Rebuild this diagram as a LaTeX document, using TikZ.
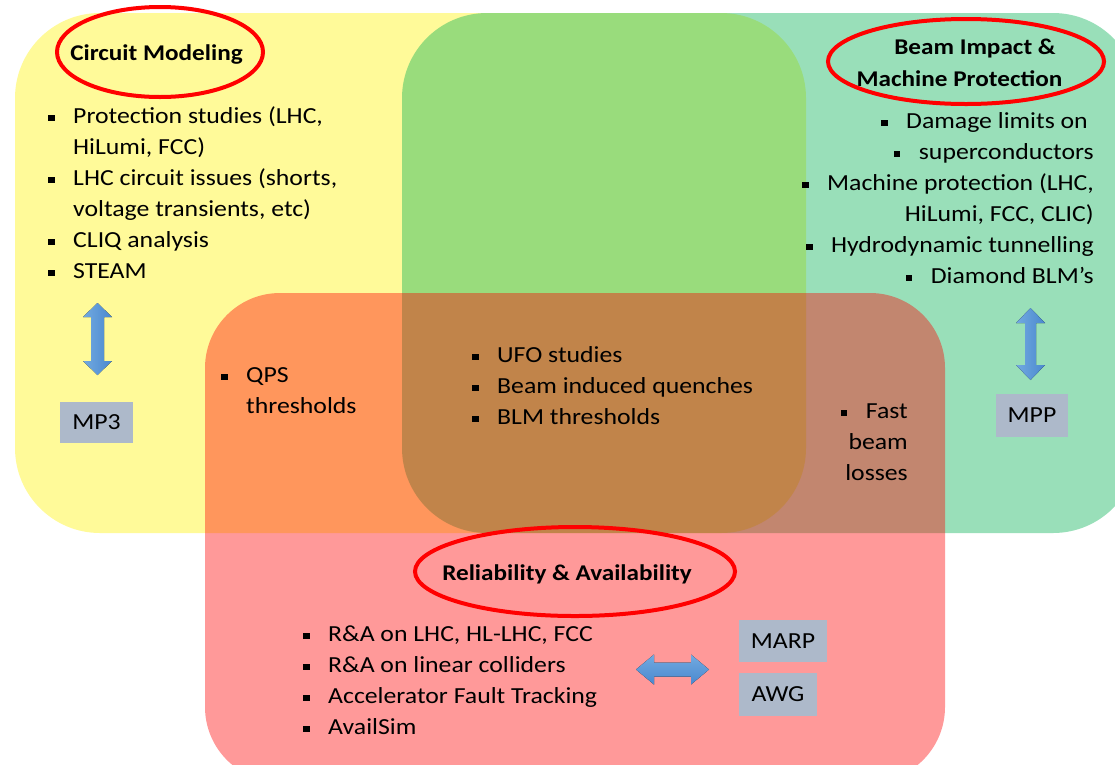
\documentclass[tikz,border=0pt]{standalone}
\usepackage{fontspec}
\setmainfont{Carlito}[FakeStretch=1.12]
\definecolor{gbox}{HTML}{ADB9CA}
\definecolor{ogreen}{HTML}{00B050}
\definecolor{arrA}{HTML}{72AAE0}
\definecolor{arrB}{HTML}{4A88CF}
\newcommand\bsq{\rule[2pt]{6.5pt}{6.5pt}}
\newcommand\bl{\makebox[25pt][l]{\bsq}}
\begin{document}
\begin{tikzpicture}[x=1pt,y=-1pt,
  txt/.style={inner sep=0pt, anchor=base west, font=\fontsize{23}{27}\selectfont},
  txr/.style={inner sep=0pt, anchor=base east, font=\fontsize{23}{27}\selectfont},
  ttl/.style={inner sep=0pt, anchor=base, font=\bfseries\fontsize{22.5}{26}\selectfont},
  ring/.style={draw=red, line width=4pt},
  gb/.style={fill=gbox, inner sep=0pt, font=\fontsize{23}{27}\selectfont},
  varrow/.style={left color=arrA, right color=arrB},
  harrow/.style={top color=arrA, bottom color=arrB}]
\useasboundingbox (0,0) rectangle (1115,764);
\begin{scope}
  \clip (0,0) rectangle (1115,764);
  \fill[yellow, fill opacity=0.4, rounded corners=85pt] (15,13) rectangle (806,533);
  \fill[ogreen, fill opacity=0.4, rounded corners=85pt] (402,13) rectangle (1138,533);
  \fill[red, fill opacity=0.4, rounded corners=75pt] (205,293) rectangle (945,782);
\end{scope}

% Circuit Modeling
\node[ttl] (cmT) at (156.5,60) {Circuit Modeling};
\draw[ring] (160,52) ellipse [x radius=103, y radius=45];
\node[txt] (c1) at (48,123) {\bl Protection studies (LHC,};
\node[txt] (c2) at (73,154) {HiLumi, FCC)};
\node[txt] (c3) at (48,185) {\bl LHC circuit issues (shorts,};
\node[txt] (c4) at (73,216) {voltage transients, etc)};
\node[txt] (c5) at (48,247) {\bl CLIQ analysis};
\node[txt] (c6) at (48,278) {\bl STEAM};

% Beam Impact
\node[ttl] (bmT1) at (975,54) {Beam Impact \&};
\node[ttl] (bmT2) at (959.5,86) {Machine Protection};
\draw[ring] (966,61.5) ellipse [x radius=138, y radius=42.5];
\node[txr] (b1) at (1088,128) {\bl Damage limits on};
\node[txr] (b2) at (1094,159) {\bl superconductors};
\node[txr] (b3) at (1094,190) {\bl Machine protection (LHC,};
\node[txr] (b4) at (1094,221) {HiLumi, FCC, CLIC)};
\node[txr] (b5) at (1094,252) {\bl Hydrodynamic tunnelling};
\node[txr] (b6) at (1094,283) {\bl Diamond BLM’s};

% overlaps
\node[txt] (u1) at (472,362) {\bl UFO studies};
\node[txt] (u2) at (472,393) {\bl Beam induced quenches};
\node[txt] (u3) at (472,424) {\bl BLM thresholds};
\node[txt] (q1) at (221,382) {\bl QPS};
\node[txt] (q2) at (246,413) {thresholds};
\node[txr] (f1) at (908,418) {\bl Fast};
\node[txr] (f2) at (908,449) {beam};
\node[txr] (f3) at (908,480) {losses};

% Reliability
\node[ttl] (raT) at (567,580) {Reliability \& Availability};
\draw[ring] (575,571.5) ellipse [x radius=160, y radius=44.5];
\node[txt] (r1) at (303,641) {\bl R\&A on LHC, HL-LHC, FCC};
\node[txt] (r2) at (303,672) {\bl R\&A on linear colliders};
\node[txt] (r3) at (303,703) {\bl Accelerator Fault Tracking};
\node[txt] (r4) at (303,734) {\bl AvailSim};

% boxes
\node[gb, minimum width=73pt, minimum height=41pt] (mp3) at (96.5,422.5) {MP3};
\node[gb, minimum width=72pt, minimum height=43pt] (mpp) at (1032,415.5) {MPP};
\node[gb, minimum width=88pt, minimum height=42pt] (marp) at (783,641) {MARP};
\node[gb, minimum width=78pt, minimum height=43pt] (awg) at (778,694.5) {AWG};

% block arrows
\fill[varrow] (97.5,303) -- (112,317) -- (104,317) -- (104,361) -- (112,361) -- (97.5,375)
  -- (83,361) -- (91,361) -- (91,317) -- (83,317) -- cycle;
\fill[varrow] (1030.5,308) -- (1045,323) -- (1036,323) -- (1036,365) -- (1045,365) -- (1030.5,380)
  -- (1016,365) -- (1025,365) -- (1025,323) -- (1016,323) -- cycle;
\fill[harrow] (636,669.5) -- (654,654.5) -- (654,662.5) -- (691,662.5) -- (691,654.5) -- (709,669.5)
  -- (691,684.5) -- (691,676.5) -- (654,676.5) -- (654,684.5) -- cycle;
\end{tikzpicture}
\end{document}
